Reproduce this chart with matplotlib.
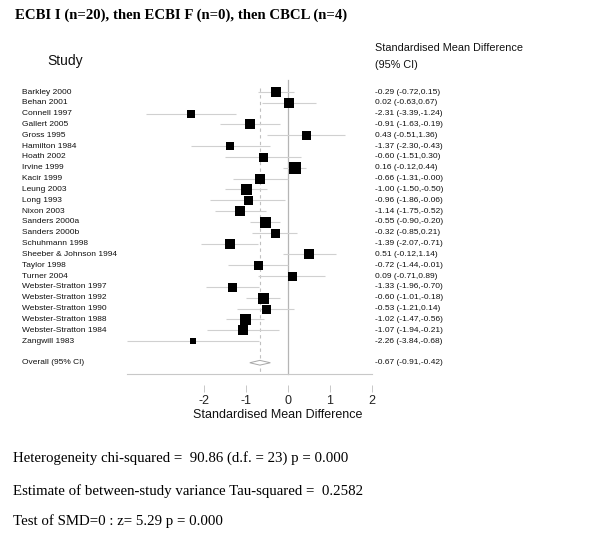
import matplotlib
matplotlib.use("Agg")
import matplotlib.pyplot as plt
from matplotlib.patches import Polygon
from matplotlib.transforms import blended_transform_factory

title = "ECBI I (n=20), then ECBI F (n=0), then CBCL (n=4)"
studies = ["Barkley 2000", "Behan 2001", "Connell 1997", "Gallert 2005", "Gross 1995",
           "Hamilton 1984", "Hoath 2002", "Irvine 1999", "Kacir 1999", "Leung 2003",
           "Long 1993", "Nixon 2003", "Sanders 2000a", "Sanders 2000b", "Schuhmann 1998",
           "Sheeber & Johnson 1994", "Taylor 1998", "Turner 2004", "Webster-Stratton 1997",
           "Webster-Stratton 1992", "Webster-Stratton 1990", "Webster-Stratton 1988",
           "Webster-Stratton 1984", "Zangwill 1983"]
est = [-0.29, 0.02, -2.31, -0.91, 0.43, -1.37, -0.60, 0.16, -0.66, -1.00, -0.96, -1.14,
       -0.55, -0.32, -1.39, 0.51, -0.72, 0.09, -1.33, -0.60, -0.53, -1.02, -1.07, -2.26]
lo = [-0.72, -0.63, -3.39, -1.63, -0.51, -2.30, -1.51, -0.12, -1.31, -1.50, -1.86, -1.75,
      -0.90, -0.85, -2.07, -0.12, -1.44, -0.71, -1.96, -1.01, -1.21, -1.47, -1.94, -3.84]
hi = [0.15, 0.67, -1.24, -0.19, 1.36, -0.43, 0.30, 0.44, -0.0, -0.50, -0.06, -0.52,
      -0.20, 0.21, -0.71, 1.14, -0.01, 0.89, -0.70, -0.18, 0.14, -0.56, -0.21, -0.68]
weights = [10, 10, 8, 10, 9, 8, 9, 11.5, 10, 11, 9, 10, 11, 9, 10, 9.5, 9, 9, 9, 11,
           9, 11, 10, 6.5]
overall_label = "Overall (95% CI)"
overall = (-0.67, -0.91, -0.42)
xticks = [-2, -1, 0, 1, 2]
xlabel = "Standardised Mean Difference"
stats_lines = ["Heterogeneity chi-squared =  90.86 (d.f. = 23) p = 0.000",
               "Estimate of between-study variance Tau-squared =  0.2582",
               "Test of SMD=0 : z= 5.29 p = 0.000"]

W, H = 600, 535
fig = plt.figure(figsize=(W / 100, H / 100), dpi=100)
fig.patch.set_facecolor("white")

def fx(px):
    return px / W

def fy(py):
    return 1 - py / H

# axes geometry: x_px = 288 + 42*x ; row i at y_px = 92 + 10.83*i
x0px, xscale = 288.0, 42.0
xmin, xmax = -4.0, 2.1
y0px, rstep = 92.0, 10.83
rtop, rbot = -2.0, 27.7
left_px = x0px + xmin * xscale
right_px = x0px + xmax * xscale
top_px = y0px + rtop * rstep
bot_px = y0px + rbot * rstep
ax = fig.add_axes([fx(left_px), fy(bot_px), (right_px - left_px) / W, (bot_px - top_px) / H])
ax.set_xlim(xmin, xmax)
ax.set_ylim(rbot, rtop)
for s in ax.spines.values():
    s.set_visible(False)
ax.set_facecolor("none")

n = len(studies)
rows = list(range(n))
ov_row = n + 1
axis_row = n + 2

grey_ci = "#d0d0d0"
# CI lines
for r, l, h in zip(rows, lo, hi):
    ax.plot([l, h], [r, r], color=grey_ci, lw=0.8, zorder=1, solid_capstyle="butt")
# null line
ax.plot([0, 0], [rtop + 0.9, axis_row], color="#b5b5b5", lw=0.9, zorder=0)
# overall dashed line
ax.plot([overall[0], overall[0]], [-0.4, axis_row], color="#c0c0c0", lw=0.8,
        ls=(0, (3, 3)), zorder=0)
# x axis line
ax.plot([min(lo), max(xticks)], [axis_row, axis_row], color="#c8c8c8", lw=0.8, zorder=0)
# squares
for r, e, w in zip(rows, est, weights):
    ax.plot([e], [r], marker="s", ms=w * 0.72, color="black", mec="black", mew=0,
            ls="none", zorder=3)
# diamond
e, l, h = overall
dh = 0.22
ax.add_patch(Polygon([[l, ov_row], [e, ov_row - dh], [h, ov_row], [e, ov_row + dh]],
                     closed=True, facecolor="white", edgecolor="#a8a8a8", lw=0.7, zorder=2))

ax.set_yticks([])
ax.set_xticks(xticks)
ax.set_xticklabels([str(t) for t in xticks])
ax.tick_params(axis="x", direction="in", length=5, width=0.7, color="#c8c8c8",
               pad=2, labelsize=9, labelcolor="#222222")
for lab in ax.get_xticklabels():
    lab.set_fontfamily("Liberation Sans")
fig.text(fx(278), fy(415), xlabel, fontsize=9, family="Liberation Sans",
         ha="center", va="center", color="#111111")

# texts
tr = blended_transform_factory(fig.transFigure, ax.transData)
for r, name, e, l, h in zip(rows, studies, est, lo, hi):
    ax.text(fx(22), r, name, transform=tr, fontsize=6, family="Liberation Sans",
            va="center", ha="left", color="#111111")
    ax.text(fx(375), r, f"{e:.2f} ({l:.2f},{h:.2f})", transform=tr, fontsize=6,
            family="Liberation Sans", va="center", ha="left", color="#111111")
ax.text(fx(22), ov_row, overall_label, transform=tr, fontsize=6,
        family="Liberation Sans", va="center", ha="left", color="#111111")
ax.text(fx(375), ov_row, f"{overall[0]:.2f} ({overall[1]:.2f},{overall[2]:.2f})",
        transform=tr, fontsize=6, family="Liberation Sans", va="center", ha="left",
        color="#111111")

fig.text(fx(47), fy(61), "Study", fontsize=10, family="Liberation Sans",
         va="center", ha="left", color="#111111")
fig.text(fx(375), fy(48), "Standardised Mean Difference", fontsize=7.8,
         family="Liberation Sans", va="center", ha="left", color="#111111")
fig.text(fx(375), fy(65), "(95% CI)", fontsize=7.8, family="Liberation Sans",
         va="center", ha="left", color="#111111")

fig.text(fx(15), fy(15), title, fontsize=10.65, family="Liberation Serif",
         weight="bold", va="center", ha="left", color="black")
for yy, line in zip([458, 491, 521], stats_lines):
    fig.text(fx(13), fy(yy), line, fontsize=10.7, family="Liberation Serif",
             va="center", ha="left", color="black")

fig.savefig("out.png", dpi=100, facecolor="white")
